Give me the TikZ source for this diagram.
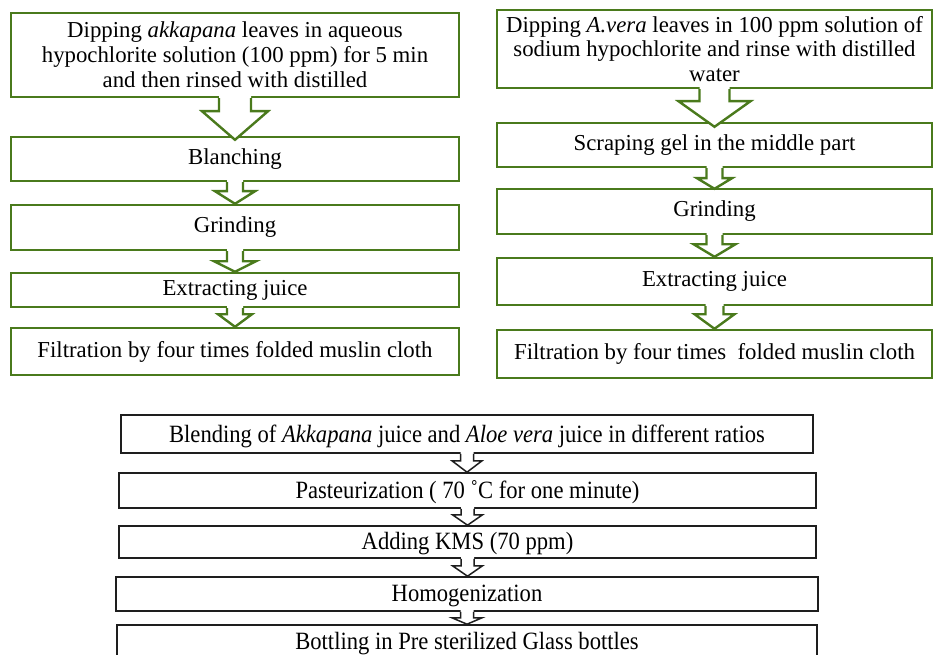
\documentclass[tikz,border=0pt]{standalone}
\usepackage{fontspec}
\setmainfont{Liberation Serif}
\usetikzlibrary{calc}
\definecolor{fgreen}{RGB}{74,122,28}
\definecolor{fblack}{RGB}{30,30,30}
\newcommand\tallt[1]{\raisebox{-2pt}[\height][\depth]{\scalebox{1}[1.1]{#1}}}
\tikzset{
  gbox/.style={draw=fgreen, line width=2.4pt, fill=white, inner sep=0pt, align=center,
    font=\fontsize{22.8}{24.8}\selectfont},
  bbox/.style={draw=fblack, line width=1.6pt, fill=white, inner sep=0pt, align=center,
    font=\fontsize{22.6}{24}\selectfont},
  garrow/.style={draw=fgreen, line width=2.4pt, line join=miter},
  barrow/.style={draw=fblack, line width=1.5pt, line join=miter},
}
% #1 style, #2 from node, #3 to node, #4 shaft half width, #5 head half width, #6 shaft length, #7 tip offset
\newcommand\blkarrow[7]{%
  \fill[white] let \p1=(#2.south), \p2=(#3.north) in
    (\x1-#4,\y1+2pt) -- (\x1-#4,\y1-#6) -- (\x1-#5,\y1-#6) -- (\x1,\y2-#7)
    -- (\x1+#5,\y1-#6) -- (\x1+#4,\y1-#6) -- (\x1+#4,\y1+2pt) -- cycle;
  \path[#1] let \p1=(#2.south), \p2=(#3.north) in
    (\x1-#4,\y1) -- (\x1-#4,\y1-#6) -- (\x1-#5,\y1-#6) -- (\x1,\y2-#7)
    -- (\x1+#5,\y1-#6) -- (\x1+#4,\y1-#6) -- (\x1+#4,\y1);
}
\begin{document}
\begin{tikzpicture}[x=1pt,y=-1pt]
\useasboundingbox (0,0) rectangle (934,655);
% left column
\node[gbox, minimum width=448pt, minimum height=84pt] (L1) at (235,55)
  {Dipping \textit{akkapana} leaves in aqueous\\hypochlorite solution (100 ppm) for 5 min\\and then rinsed with distilled};
\node[gbox, minimum width=448pt, minimum height=44pt] (L2) at (235,159) {Blanching};
\node[gbox, minimum width=448pt, minimum height=45pt] (L3) at (235,227.5) {Grinding};
\node[gbox, minimum width=448pt, minimum height=34pt] (L4) at (235,290) {Extracting juice};
\node[gbox, minimum width=448pt, minimum height=47pt] (L5) at (235,351.5) {Filtration by four times folded muslin cloth};
% right column
\node[gbox, minimum width=435pt, minimum height=78pt] (R1) at (714.5,49)
  {Dipping \textit{A.vera} leaves in 100 ppm solution of\\sodium hypochlorite and rinse with distilled\\water};
\node[gbox, minimum width=435pt, minimum height=44pt] (R2) at (714.5,145) {Scraping gel in the middle part};
\node[gbox, minimum width=435pt, minimum height=45pt] (R3) at (714.5,211.5) {Grinding};
\node[gbox, minimum width=435pt, minimum height=47pt] (R4) at (714.5,281.5) {Extracting juice};
\node[gbox, minimum width=435pt, minimum height=48pt] (R5) at (714.5,354) {Filtration by four times\ \ folded muslin cloth};
% bottom
\node[bbox, minimum width=692pt, minimum height=38pt] (B1) at (467,434)
  {\tallt{Blending of \textit{Akkapana} juice and \textit{Aloe vera} juice in different ratios}};
\node[bbox, minimum width=697pt, minimum height=35pt] (B2) at (467.5,490.5) {\tallt{Pasteurization ( 70 ˚C for one minute)}};
\node[bbox, minimum width=697pt, minimum height=32pt] (B3) at (467.5,542) {\tallt{Adding KMS (70 ppm)}};
\node[bbox, minimum width=702pt, minimum height=34pt] (B4) at (467,594) {\tallt{Homogenization}};
\node[bbox, minimum width=700pt, minimum height=34pt] (B5) at (467,642) {\tallt{Bottling in Pre sterilized Glass bottles}};
% arrows left
\blkarrow{garrow}{L1}{L2}{16pt}{33pt}{13pt}{4pt}
\blkarrow{garrow}{L2}{L3}{8pt}{20pt}{9pt}{0pt}
\blkarrow{garrow}{L3}{L4}{8pt}{21pt}{10pt}{0pt}
\blkarrow{garrow}{L4}{L5}{8pt}{17pt}{6pt}{0pt}
% arrows right
\blkarrow{garrow}{R1}{R2}{15pt}{36pt}{12pt}{5pt}
\blkarrow{garrow}{R2}{R3}{8pt}{17.5pt}{10pt}{1pt}
\blkarrow{garrow}{R3}{R4}{8pt}{21pt}{9pt}{0pt}
\blkarrow{garrow}{R4}{R5}{9pt}{20pt}{8pt}{0pt}
% arrows bottom
\blkarrow{barrow}{B1}{B2}{6.5pt}{15pt}{7pt}{0pt}
\blkarrow{barrow}{B2}{B3}{6.5pt}{15pt}{6pt}{0pt}
\blkarrow{barrow}{B3}{B4}{6.5pt}{15pt}{7pt}{0pt}
\blkarrow{barrow}{B4}{B5}{6.5pt}{15pt}{6pt}{0pt}
\end{tikzpicture}
\end{document}
